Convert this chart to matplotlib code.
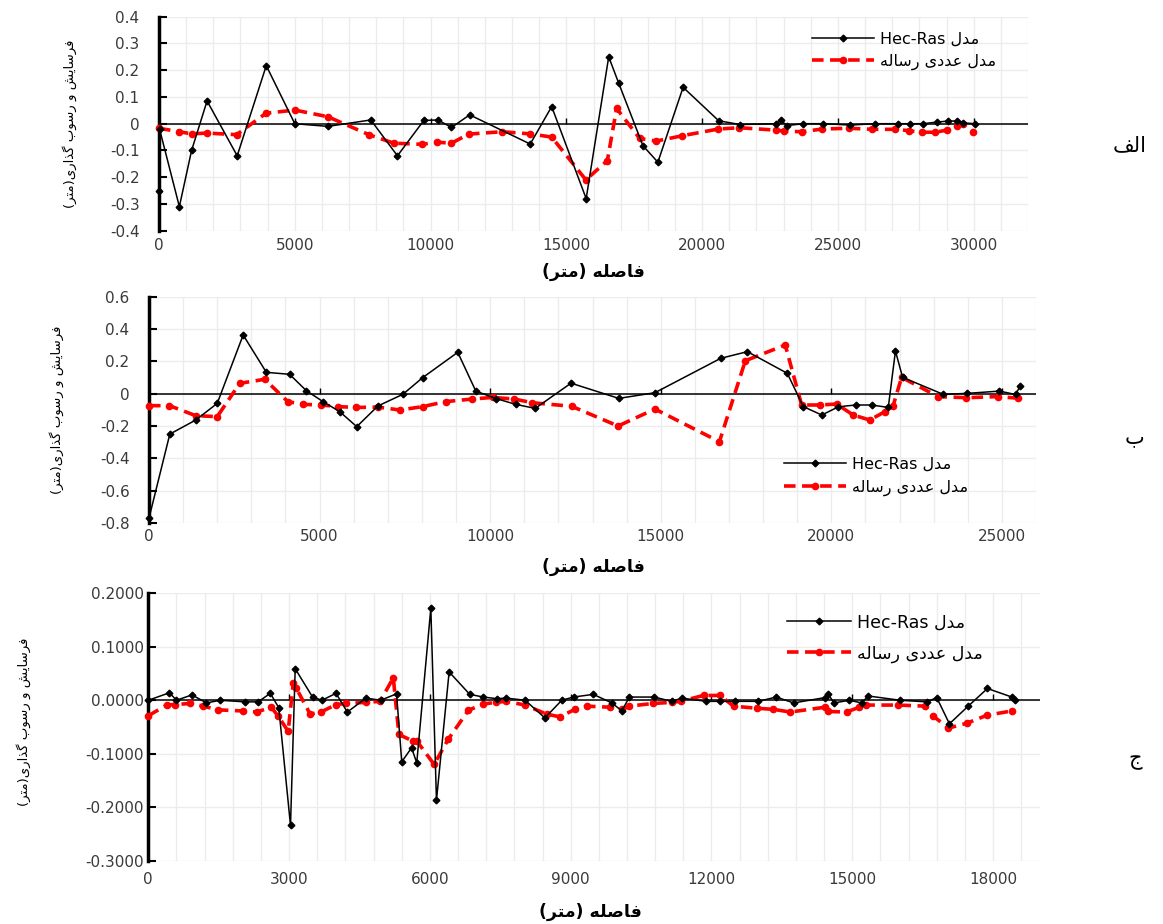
import re
import matplotlib
matplotlib.use("Agg")
import matplotlib.pyplot as plt
from matplotlib.ticker import MultipleLocator, FuncFormatter

plt.rcParams['font.family'] = ['DejaVu Sans']
plt.rcParams['axes.unicode_minus'] = False

# ---- data ----
# panel "الف"
x1_hec = [0, 20, 750, 1200, 1770, 2880, 3950, 5000, 6220, 7800, 8780, 9750, 10270, 10770, 11440,
          13670, 14460, 15730, 16560, 16930, 17820, 18370, 19300, 20610, 21390, 22710, 22910, 23110,
          23730, 24460, 25460, 26350, 27210, 27660, 28150, 28640, 29070, 29370, 29620, 30040]
y1_hec = [-0.25, -0.02, -0.31, -0.10, 0.085, -0.12, 0.217, 0.0, -0.01, 0.014, -0.12, 0.012, 0.014,
          -0.014, 0.033, -0.076, 0.064, -0.28, 0.25, 0.151, -0.082, -0.144, 0.136, 0.011, -0.003,
          0.0, 0.013, -0.007, 0.0, 0.0, -0.005, 0.0, 0.0, 0.0, 0.0, 0.006, 0.01, 0.01, 0.003, 0.0]
x1_num = [0, 750, 1200, 1760, 2860, 3940, 5000, 6220, 7730, 8650, 9690, 10240, 10770, 11400, 12630,
          13670, 14460, 15720, 16510, 16850, 17700, 18310, 19270, 20590, 21370, 22710, 23030, 23670,
          24420, 25400, 26260, 27110, 27600, 28090, 28580, 29010, 29370, 29620, 29980]
y1_num = [-0.017, -0.03, -0.038, -0.035, -0.041, 0.039, 0.051, 0.026, -0.041, -0.073, -0.077,
          -0.069, -0.073, -0.039, -0.03, -0.038, -0.05, -0.21, -0.138, 0.057, -0.055, -0.065,
          -0.045, -0.02, -0.015, -0.024, -0.028, -0.03, -0.02, -0.017, -0.021, -0.021, -0.026,
          -0.032, -0.032, -0.024, -0.009, 0.0, -0.03]

# panel "ب"
x2_hec = [0, 610, 1370, 2000, 2760, 3440, 4120, 4610, 5100, 5590, 6090, 6710, 7440, 8020, 9050,
          9580, 10170, 10750, 11320, 12370, 13770, 14830, 16760, 17540, 18710, 19180, 19720, 20210,
          20710, 21180, 21670, 21880, 22090, 23280, 23990, 24930, 25400, 25530]
y2_hec = [-0.77, -0.25, -0.163, -0.06, 0.363, 0.132, 0.12, 0.019, -0.049, -0.111, -0.204, -0.076,
          -0.004, 0.099, 0.256, 0.016, -0.03, -0.066, -0.091, 0.065, -0.029, 0.006, 0.219, 0.26,
          0.126, -0.08, -0.132, -0.081, -0.07, -0.07, -0.085, 0.264, 0.101, -0.004, 0.002, 0.016,
          -0.005, 0.045]
x2_num = [0, 600, 1370, 2000, 2660, 3390, 4070, 4510, 5050, 5540, 6070, 6710, 7360, 8020, 8700,
          9480, 10070, 10700, 11240, 12390, 13750, 14830, 16720, 17480, 18650, 19130, 19670, 20160,
          20640, 21130, 21570, 21810, 22060, 23130, 23960, 24880, 25470]
y2_num = [-0.074, -0.074, -0.136, -0.142, 0.064, 0.089, -0.049, -0.066, -0.07, -0.08, -0.085,
          -0.083, -0.101, -0.08, -0.049, -0.033, -0.023, -0.033, -0.056, -0.078, -0.2, -0.095,
          -0.297, 0.204, 0.301, -0.07, -0.07, -0.064, -0.132, -0.163, -0.111, -0.076, 0.101,
          -0.018, -0.025, -0.018, -0.028]

# panel "ج"
x3_hec = [0, 450, 600, 930, 1240, 1530, 2060, 2340, 2600, 2780, 3030, 3130, 3500, 3700, 4000,
          4240, 4640, 4950, 5290, 5400, 5610, 5720, 6020, 6140, 6410, 6850, 7140, 7420, 7630, 8030,
          8450, 8810, 9060, 9480, 9880, 10090, 10250, 10780, 11150, 11370, 11890, 12180, 12500,
          13000, 13380, 13750, 14420, 14490, 14610, 14940, 15200, 15340, 16020, 16590, 16800,
          17070, 17470, 17880, 18400, 18470]
y3_hec = [0.0, 0.014, 0.0, 0.01, -0.005, 0.0, -0.003, -0.003, 0.013, -0.014, -0.234, 0.059, 0.006,
          0.0, 0.013, -0.022, 0.004, 0.0, 0.012, -0.115, -0.089, -0.117, 0.172, -0.187, 0.053,
          0.011, 0.006, 0.003, 0.004, 0.0, -0.033, 0.0, 0.006, 0.011, -0.005, -0.02, 0.006, 0.006,
          -0.002, 0.004, -0.002, -0.002, -0.002, -0.002, 0.006, -0.005, 0.005, 0.011, -0.005, 0.0,
          -0.005, 0.008, 0.0, -0.003, 0.005, -0.044, -0.011, 0.022, 0.006, 0.0]
x3_num = [0, 390, 570, 890, 1170, 1490, 2020, 2310, 2620, 2770, 2980, 3090, 3150, 3450, 3680,
          4000, 4210, 4630, 4940, 5220, 5340, 5630, 5720, 6090, 6390, 6820, 7130, 7410, 7620, 8030,
          8490, 8770, 9090, 9340, 9840, 10090, 10250, 10750, 11150, 11340, 11830, 12180, 12470,
          12970, 13320, 13680, 14420, 14490, 14880, 15150, 15300, 15980, 16550, 16730, 17050,
          17440, 17870, 18400]
y3_num = [-0.029, -0.009, -0.008, -0.006, -0.011, -0.018, -0.02, -0.022, -0.013, -0.03, -0.058,
          0.033, 0.023, -0.026, -0.022, -0.008, -0.006, -0.004, -0.002, 0.042, -0.064, -0.076,
          -0.076, -0.12, -0.073, -0.019, -0.007, -0.004, -0.002, -0.009, -0.026, -0.031, -0.017,
          -0.011, -0.013, -0.017, -0.011, -0.006, -0.004, -0.002, 0.009, 0.009, -0.011, -0.015,
          -0.017, -0.022, -0.013, -0.021, -0.022, -0.013, -0.009, -0.009, -0.011, -0.03, -0.052,
          -0.043, -0.028, -0.02]

label_hec = "مدل Hec-Ras"
label_num = "مدل عددی رساله"
xlabel = "فاصله (متر)"
ylabel = "فرسایش و رسوب گذاری(متر)"
panel_names = ["الف", "ب", "ج"]

# matplotlib has no arabic shaping, so pick the presentation forms by hand
# (isolated, final, initial, medial)
FORMS = {
    'ا': ('\uFE8D', '\uFE8E', None, None),
    'ب': ('\uFE8F', '\uFE90', '\uFE91', '\uFE92'),
    'ت': ('\uFE95', '\uFE96', '\uFE97', '\uFE98'),
    'ج': ('\uFE9D', '\uFE9E', '\uFE9F', '\uFEA0'),
    'د': ('\uFEA9', '\uFEAA', None, None),
    'ذ': ('\uFEAB', '\uFEAC', None, None),
    'ر': ('\uFEAD', '\uFEAE', None, None),
    'س': ('\uFEB1', '\uFEB2', '\uFEB3', '\uFEB4'),
    'ش': ('\uFEB5', '\uFEB6', '\uFEB7', '\uFEB8'),
    'ص': ('\uFEB9', '\uFEBA', '\uFEBB', '\uFEBC'),
    'ع': ('\uFEC9', '\uFECA', '\uFECB', '\uFECC'),
    'ف': ('\uFED1', '\uFED2', '\uFED3', '\uFED4'),
    'ل': ('\uFEDD', '\uFEDE', '\uFEDF', '\uFEE0'),
    'م': ('\uFEE1', '\uFEE2', '\uFEE3', '\uFEE4'),
    'ه': ('\uFEE9', '\uFEEA', '\uFEEB', '\uFEEC'),
    'و': ('\uFEED', '\uFEEE', None, None),
    'ی': ('\uFBFC', '\uFBFD', '\uFBFE', '\uFBFF'),
    'گ': ('\uFB92', '\uFB93', '\uFB94', '\uFB95'),
}


def fa(text):
    out = []
    for i, c in enumerate(text):
        if c not in FORMS:
            out.append(c)
            continue
        prev = text[i - 1] if i > 0 else ''
        nxt = text[i + 1] if i + 1 < len(text) else ''
        jp = prev in FORMS and FORMS[prev][2] is not None
        jn = nxt in FORMS and FORMS[c][2] is not None
        iso, fin, ini, med = FORMS[c]
        if jp and jn:
            out.append(med)
        elif jp:
            out.append(fin)
        elif jn:
            out.append(ini)
        else:
            out.append(iso)
    vis = ''.join(out)[::-1].translate(str.maketrans('()', ')('))
    # latin runs keep their own direction
    return re.sub(r'[A-Za-z0-9.\-]+', lambda m: m.group(0)[::-1], vis)


fig = plt.figure(figsize=(11.63, 9.24), dpi=100)
W, H = 1163.0, 924.0


def px_axes(l, t, r, b):
    return fig.add_axes([l / W, 1 - b / H, (r - l) / W, (b - t) / H])


def panel(ax, xh, yh, xn, yn, xmax, xmajor, xminor, ylim, ystep, yfmt, ypad, xpad,
          leg_anchor, leg_fs, leg_hl, leg_sp):
    ax.plot(xh, yh, color='black', lw=1.1, marker='D', ms=3.4, label=fa(label_hec), zorder=4, clip_on=False)
    ax.plot(xn, yn, color='#ff0000', lw=2.6, ls=(0, (3.2, 1.8)), marker='o', ms=4.5,
            label=fa(label_num), zorder=3, clip_on=False)
    ax.axhline(0, color='black', lw=1.1, zorder=2)
    ax.set_xlim(0, xmax)
    ax.set_ylim(*ylim)
    ax.xaxis.set_major_locator(MultipleLocator(xmajor))
    ax.xaxis.set_minor_locator(MultipleLocator(xminor))
    ax.yaxis.set_major_locator(MultipleLocator(ystep))
    ax.yaxis.set_major_formatter(FuncFormatter(yfmt))
    ax.grid(True, which='both', axis='x', color='#ececec', lw=1)
    ax.grid(True, which='major', axis='y', color='#ececec', lw=1)
    ax.set_axisbelow(True)
    for s in ['top', 'right', 'bottom']:
        ax.spines[s].set_visible(False)
    ax.spines['left'].set_linewidth(2.5)
    ax.tick_params(axis='y', direction='in', length=6, width=1.5, pad=ypad,
                   labelsize=11, labelcolor='#3a3a3a')
    ax.tick_params(axis='x', which='both', length=0, pad=xpad, labelsize=11, labelcolor='#3a3a3a')
    # small tick marks on the zero line, like the category axis in the original
    ticks = [t for t in ax.get_xticks() if 0 < t <= xmax]
    ax.plot(ticks, [0] * len(ticks), ls='none', marker=2, ms=4, color='black', mew=1)
    ax.legend(loc='upper left', bbox_to_anchor=leg_anchor, frameon=False, fontsize=leg_fs,
              handlelength=leg_hl, handletextpad=0.35, labelspacing=leg_sp, borderpad=0,
              borderaxespad=0)


def fmt1(v, pos):
    return '0' if abs(v) < 1e-9 else '%.1f' % v


def fmt4(v, pos):
    return '%.4f' % (0.0 if abs(v) < 1e-9 else v)


ax1 = px_axes(159, 16.7, 1028, 230.7)
panel(ax1, x1_hec, y1_hec, x1_num, y1_num, 32000, 5000, 1000, (-0.4, 0.4), 0.1, fmt1,
      14, 5, (0.751, 0.93), 11.5, 3.9, 0.42)

ax2 = px_axes(149, 296.7, 1036, 523)
panel(ax2, x2_hec, y2_hec, x2_num, y2_num, 26000, 5000, 1000, (-0.8, 0.6), 0.2, fmt1,
      14, 4, (0.716, 0.295), 11.5, 3.9, 0.5)

ax3 = px_axes(148.3, 593.3, 1040, 860.7)
panel(ax3, x3_hec, y3_hec, x3_num, y3_num, 19000, 3000, 600, (-0.3, 0.2), 0.1, fmt4,
      3, 8, (0.716, 0.925), 12.5, 3.7, 0.75)

# axis titles and panel names
for xc, yc in [(593, 272), (593, 567), (590, 912)]:
    fig.text(xc / W, 1 - yc / H, fa(xlabel), ha='center', va='center', fontsize=12.5, fontweight='bold')
for xc, yc in [(70, 124), (57, 410), (24, 722)]:
    fig.text(xc / W, 1 - yc / H, fa(ylabel), ha='center', va='center', rotation=90, fontsize=9.5)
for name, (xc, yc) in zip(panel_names, [(1130, 145), (1135, 437), (1135, 760)]):
    fig.text(xc / W, 1 - yc / H, fa(name), ha='center', va='center', fontsize=15)

fig.savefig('out.png', dpi=100)
